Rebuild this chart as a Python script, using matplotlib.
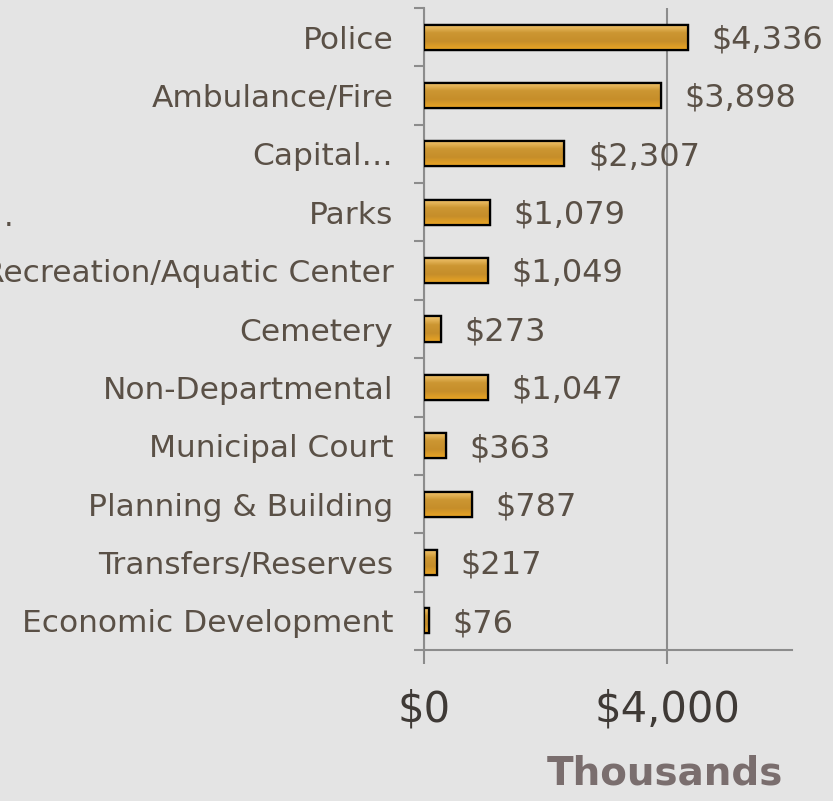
import matplotlib.pyplot as plt
import matplotlib
import numpy as np
from matplotlib.colors import LinearSegmentedColormap

matplotlib.rcParams['font.family'] = ['DejaVu Sans']

# data, top to bottom
departments = ['Police', 'Ambulance/Fire', 'Capital…', 'Parks',
               'Recreation/Aquatic Center', 'Cemetery', 'Non-Departmental',
               'Municipal Court', 'Planning & Building', 'Transfers/Reserves',
               'Economic Development']
spending = [4336, 3898, 2307, 1079, 1049, 273, 1047, 363, 787, 217, 76]
value_labels = ['$4,336', '$3,898', '$2,307', '$1,079', '$1,049', '$273',
                '$1,047', '$363', '$787', '$217', '$76']
x_ticks = [0, 4000]
x_tick_labels = ['$0', '$4,000']

text_col = '#5a5046'
axis_col = '#8c8c8c'

fig = plt.figure(figsize=(8.33, 8.01), dpi=100)
fig.patch.set_facecolor('#e4e4e4')
ax = fig.add_axes([0.509, 0.1885, 0.442, 0.8015])
ax.set_facecolor('none')

y = np.arange(len(departments))
bars = ax.barh(y, spending, height=0.43, color='#d49a28', edgecolor='black',
               linewidth=1.6, zorder=3)

# gradient fill inside each bar
grad = LinearSegmentedColormap.from_list('gold', ['#f4c872', '#cc9632', '#c68e2a', '#eca624'])
g = np.linspace(0, 1, 64).reshape(-1, 1)
for b in bars:
    im = ax.imshow(g, cmap=grad, aspect='auto', zorder=3.5,
                   extent=[b.get_x(), b.get_x() + b.get_width(),
                           b.get_y() + b.get_height(), b.get_y()])
    im.set_clip_path(b)
    ax.add_patch(plt.Rectangle((b.get_x(), b.get_y()), b.get_width(), b.get_height(),
                               fill=False, edgecolor='black', linewidth=1.6, zorder=4))

for i, (v, lab) in enumerate(zip(spending, value_labels)):
    ax.annotate(lab, (v, i), xytext=(17, -2), textcoords='offset points',
                ha='left', va='center', fontsize=23, color=text_col, zorder=5)

ax.set_ylim(len(departments) - 0.5, -0.5)
ax.set_xlim(0, 6050)
ax.set_yticks(y)
ax.set_yticklabels(departments, fontsize=22.5, color=text_col)
ax.tick_params(axis='y', which='major', length=0, pad=22)
ax.set_yticks(np.arange(-0.5, len(departments), 1), minor=True)
ax.tick_params(axis='y', which='minor', length=7, color=axis_col, width=1.5)

ax.set_xticks(x_ticks)
ax.set_xticklabels(x_tick_labels, fontsize=30, color='#3f3a36')
ax.tick_params(axis='x', length=10, color=axis_col, width=1.5, pad=18)
ax.xaxis.grid(True, color=axis_col, linewidth=1.5, zorder=0)
ax.set_axisbelow(True)

for s in ['top', 'right']:
    ax.spines[s].set_visible(False)
for s in ['left', 'bottom']:
    ax.spines[s].set_color(axis_col)
    ax.spines[s].set_linewidth(1.5)

ax.set_xlabel('Thousands', fontsize=28, fontweight='bold', color='#7a6e6e')
ax.xaxis.set_label_coords(0.655, -0.163)

# clipped leftover of a wrapped label
fig.text(0.004, 0.718, '.', fontsize=22, color=text_col)

fig.savefig('out.png', dpi=100, facecolor=fig.get_facecolor())
